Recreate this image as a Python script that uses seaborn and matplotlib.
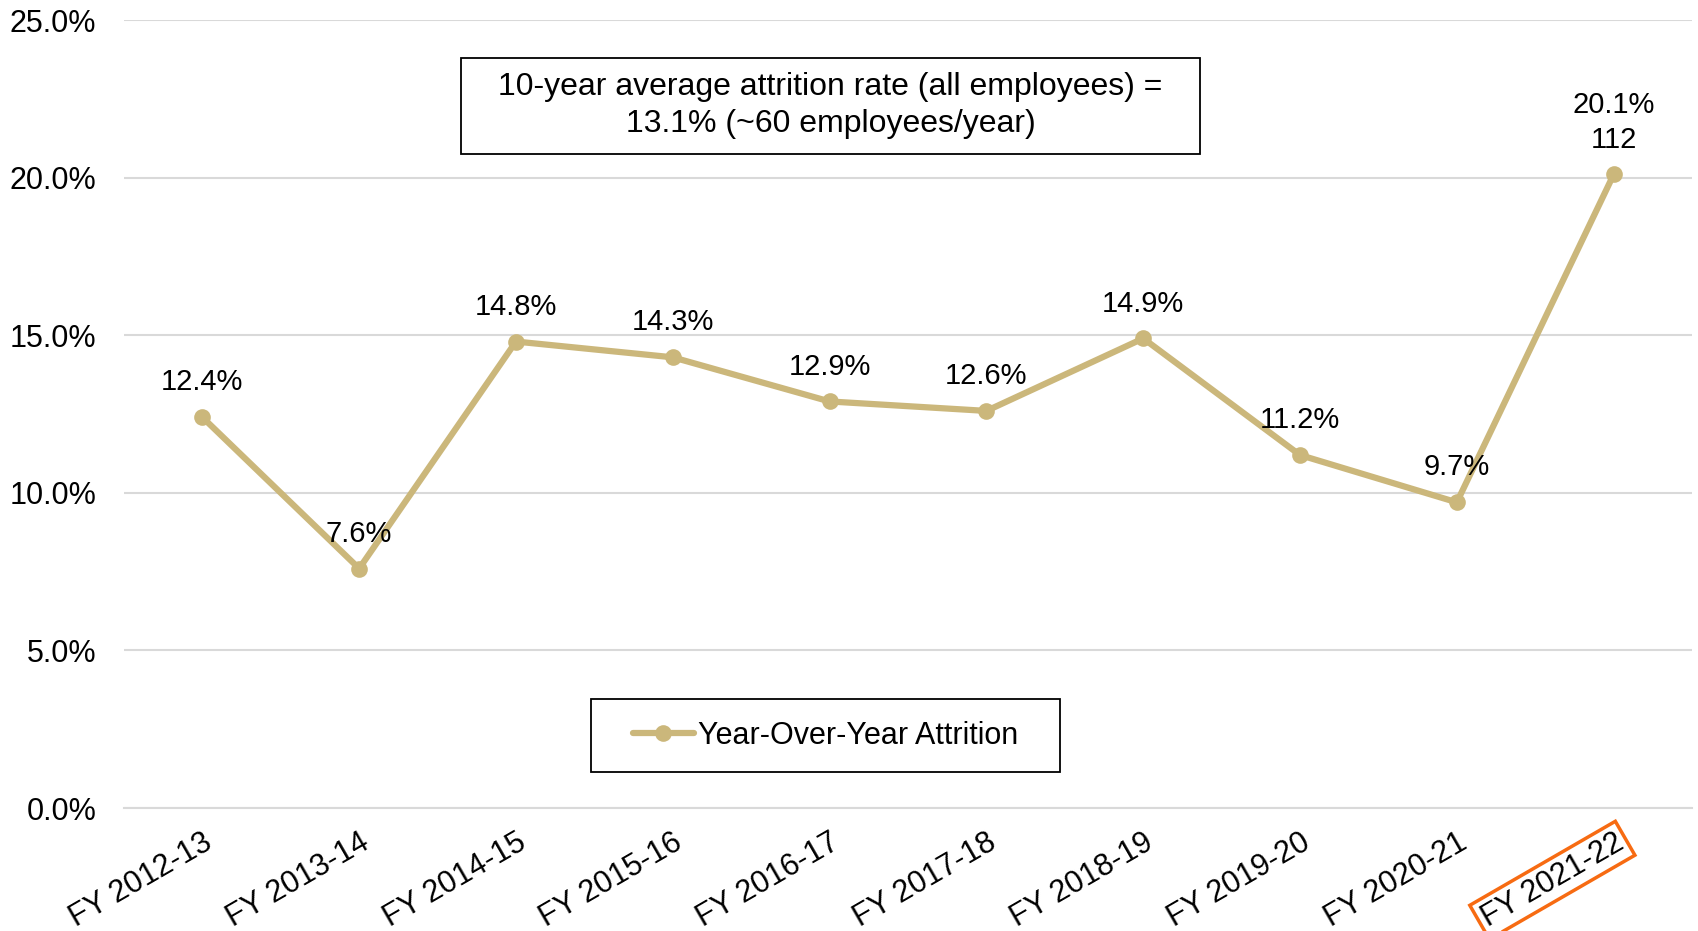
import numpy as np
import pandas as pd
import matplotlib
matplotlib.use('Agg')
import matplotlib.pyplot as plt
import matplotlib.ticker as mticker
from matplotlib.patches import Rectangle
import seaborn as sns

# ── Date ──
years = ['FY 2012-13', 'FY 2013-14', 'FY 2014-15', 'FY 2015-16', 'FY 2016-17',
         'FY 2017-18', 'FY 2018-19', 'FY 2019-20', 'FY 2020-21', 'FY 2021-22']
attrition = [12.4, 7.6, 14.8, 14.3, 12.9, 12.6, 14.9, 11.2, 9.7, 20.1]
labels = ['12.4%', '7.6%', '14.8%', '14.3%', '12.9%', '12.6%', '14.9%', '11.2%', '9.7%', '20.1%\n112']
y_ticks = [0, 5, 10, 15, 20, 25]
note = '10-year average attrition rate (all employees) =\n13.1% (~60 employees/year)'
series_name = 'Year-Over-Year Attrition'

df = pd.DataFrame({'pos': np.arange(len(years)), 'rate': attrition})

sns.set_theme(style='white')
plt.rcParams['font.family'] = ['Liberation Sans', 'DejaVu Sans']

line_color = '#CBB77B'
grid_color = '#D9D9D9'

fig = plt.figure(figsize=(16.98, 9.31), dpi=100)
ax = fig.add_axes([0.073, 0.132, 0.9235, 0.8465])

sns.lineplot(data=df, x='pos', y='rate', ax=ax, color=line_color, linewidth=4.5,
             marker='o', markersize=12, markeredgewidth=0, label=series_name)

for x, y, t in zip(df['pos'], df['rate'], labels):
    ax.annotate(t, (x, y), xytext=(0, 15), textcoords='offset points',
                ha='center', va='bottom', fontsize=21, color='black',
                linespacing=1.3)

ax.set_xlim(-0.5, len(years) - 0.5)
ax.set_ylim(0, 25)
ax.set_yticks(y_ticks)
ax.yaxis.set_major_formatter(mticker.FuncFormatter(lambda v, p: f'{v:.1f}%'))
ax.set_xticks(df['pos'])
ax.set_xticklabels(years, rotation=30, ha='right', rotation_mode='anchor')
ax.set_xticks(np.arange(-0.5, len(years)), minor=True)
ax.tick_params(axis='x', which='major', length=0, labelsize=22, pad=14, labelcolor='black')
ax.tick_params(axis='x', which='minor', length=9, width=1.5, color=grid_color, direction='out')
ax.tick_params(axis='y', length=0, labelsize=22, pad=20, labelcolor='black')
ax.set_xlabel('')
ax.set_ylabel('')

ax.grid(axis='y', color=grid_color, linewidth=1.5)
ax.set_axisbelow(True)
for side in ['top', 'right', 'left']:
    ax.spines[side].set_visible(False)
ax.spines['bottom'].set_color(grid_color)
ax.spines['bottom'].set_linewidth(1.5)

# last label in orange frame
last = ax.get_xticklabels()[-1]
last.set_bbox(dict(boxstyle='square,pad=0.15', facecolor='none',
                   edgecolor='#F76B12', linewidth=2.5))

# note box
ax.add_patch(Rectangle((0.4505 - 0.2355, 0.891 - 0.061), 0.471, 0.122,
                       transform=ax.transAxes, facecolor='white',
                       edgecolor='black', linewidth=1.3, zorder=5))
ax.text(0.4505, 0.891, note, transform=ax.transAxes, ha='center', va='center',
        fontsize=23, linespacing=1.3, zorder=6, color='black')

# legend box
ax.add_patch(Rectangle((0.4475 - 0.1495, 0.092 - 0.046), 0.299, 0.092,
                       transform=ax.transAxes, facecolor='white',
                       edgecolor='black', linewidth=1.3, zorder=5))
leg = ax.legend(loc='center', bbox_to_anchor=(0.4475, 0.092), fontsize=22,
                frameon=False, handlelength=2.0, handletextpad=0.15)
leg.set_zorder(7)
for t in leg.get_texts():
    t.set_color('black')

fig.savefig('out.png', dpi=100)
